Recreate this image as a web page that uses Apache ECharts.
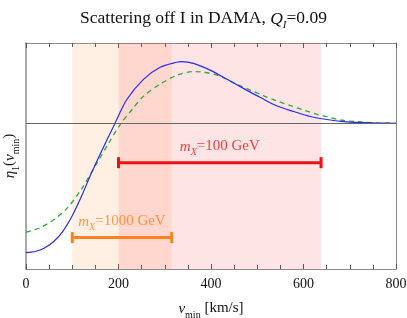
<!DOCTYPE html>
<html><head><meta charset="utf-8">
<script src="https://cdn.jsdelivr.net/npm/echarts@6/dist/echarts.min.js"></script>
<style>html,body{margin:0;padding:0;background:#fff}#c{width:407px;height:318px}</style>
</head><body><div id="c"></div>
<script>
// Data
const xTicks = [0, 200, 400, 600, 800];
const vBlue   = [0, 20, 40, 60, 80, 100, 120, 140, 160, 192, 218, 254, 290, 326, 337, 362, 398, 434, 470, 507, 543, 579, 615, 651, 687, 720, 759, 800];
const etaBlue = [-1.597, -1.583, -1.54, -1.46, -1.33, -1.14, -0.90, -0.63, -0.38, 0, 0.30, 0.55, 0.70, 0.762, 0.77, 0.747, 0.664, 0.553, 0.438, 0.324, 0.219, 0.151, 0.089, 0.052, 0.027, 0.016, 0.009, 0.005];
const vGreen   = [0, 30, 60, 90, 120, 150, 180, 205, 230, 254, 290, 326, 362, 377, 413, 456, 485, 514, 543, 572, 600, 629, 651, 680, 716, 760, 800];
const etaGreen = [-1.344, -1.29, -1.19, -1.04, -0.81, -0.52, -0.23, 0, 0.18, 0.34, 0.49, 0.60, 0.645, 0.643, 0.603, 0.488, 0.417, 0.346, 0.281, 0.223, 0.17, 0.116, 0.087, 0.046, 0.025, 0.01, 0.004];
const range100  = [200, 638];   // m_X = 100 GeV
const range1000 = [100, 315];   // m_X = 1000 GeV
const bar100Y  = -0.483;
const bar1000Y = -1.411;
const label100  = '{i|m}{sub|X}=100 GeV';
const label1000 = '{i|m}{sub|X}=1000 GeV';

const zip = (a, b) => a.map((v, i) => [v, b[i]]);
const serif = 'Liberation Serif';
const richFor = (color) => ({
  i: {fontFamily: serif, fontStyle: 'italic', fontSize: 15, color: color, verticalAlign: 'bottom', lineHeight: 18},
  sub: {fontFamily: serif, fontStyle: 'italic', fontSize: 10, color: color, verticalAlign: 'bottom', lineHeight: 13, padding: [0,0,-3,0]}
});

function bar(range, y, color, text) {
  return [{
    type: 'line', data: [[range[0], y], [range[1], y]], symbol: 'rect', symbolSize: [3, 11],
    showSymbol: true, lineStyle: {color: color, width: 3}, itemStyle: {color: color},
    silent: true, animation: false, z: 5
  }, {
    type: 'scatter', data: [[(range[0] + range[1]) / 2, y]], symbolSize: 0, silent: true, animation: false, z: 6,
    label: {show: true, position: 'top', distance: 8, formatter: text, color: color,
      fontFamily: serif, fontSize: 15, rich: richFor(color)}
  }];
}

const chart = echarts.init(document.getElementById('c'), null, {renderer: 'canvas'});
const axisLineStyle = {color: '#8a8a8a', width: 1};
const nameRich = {
  i: {fontFamily: serif, fontStyle: 'italic', fontSize: 15, color: '#111', verticalAlign: 'bottom', lineHeight: 18},
  sub: {fontFamily: serif, fontSize: 10, color: '#111', verticalAlign: 'bottom', lineHeight: 13, padding: [0,0,-3,0]}
};
chart.setOption({
  animation: false,
  title: {
    text: 'Scattering off I in DAMA, {i|Q}{sub|I}=0.09', left: 'center', top: 3,
    textStyle: {fontFamily: serif, fontSize: 17.5, fontWeight: 'normal', color: '#111',
      rich: {
        i: {fontFamily: serif, fontStyle: 'italic', fontSize: 17.5, color: '#111', verticalAlign: 'bottom', lineHeight: 20},
        sub: {fontFamily: serif, fontStyle: 'italic', fontSize: 11, color: '#111', verticalAlign: 'bottom', lineHeight: 14, padding: [0,0,-3,0]}
      }}
  },
  grid: {left: 26, right: 11, top: 43, bottom: 49, containLabel: false, outerBoundsMode: 'none'},
  xAxis: [{
    type: 'value', min: xTicks[0], max: xTicks[xTicks.length - 1], interval: 200, position: 'bottom',
    axisLine: {show: true, onZero: false, lineStyle: axisLineStyle},
    axisTick: {show: true, inside: true, length: 5, lineStyle: {color: '#555'}},
    minorTick: {show: true, splitNumber: 4, length: 4, lineStyle: {color: '#555'}},
    splitLine: {show: false},
    axisLabel: {fontFamily: serif, fontSize: 14, color: '#111', margin: 8},
    name: '{i|v}{sub|min} [km/s]', nameLocation: 'middle', nameGap: 30,
    nameTextStyle: {fontFamily: serif, fontSize: 15, color: '#111', rich: nameRich}
  }, {
    type: 'value', min: xTicks[0], max: xTicks[xTicks.length - 1], interval: 200, position: 'top',
    axisLine: {show: true, onZero: false, lineStyle: axisLineStyle},
    axisTick: {show: true, inside: true, length: 5, lineStyle: {color: '#555'}},
    minorTick: {show: true, splitNumber: 4, length: 4, lineStyle: {color: '#555'}},
    splitLine: {show: false}, axisLabel: {show: false}
  }],
  yAxis: [{
    type: 'value', min: -1.8, max: 1, position: 'left',
    axisLine: {show: true, onZero: false, lineStyle: {color: '#aaa', width: 2}},
    axisTick: {show: false}, axisLabel: {show: false}, splitLine: {show: false},
    name: '{i|η}{sub|1}({i|v}{sub|min})', nameLocation: 'middle', nameGap: 8, nameRotate: 90,
    nameTextStyle: {fontFamily: serif, fontSize: 15, color: '#111', rich: nameRich}
  }, {
    type: 'value', min: -1.8, max: 1, position: 'right',
    axisLine: {show: true, onZero: false, lineStyle: axisLineStyle},
    axisTick: {show: false}, axisLabel: {show: false}, splitLine: {show: false}
  }],
  series: [
    {
      type: 'line', data: [], silent: true,
      markArea: {silent: true, data: [
        [{xAxis: range1000[0], itemStyle: {color: 'rgba(255,150,60,0.14)'}}, {xAxis: range1000[1]}],
        [{xAxis: range100[0], itemStyle: {color: 'rgba(255,30,50,0.12)'}}, {xAxis: range100[1]}]
      ]},
      markLine: {silent: true, symbol: 'none', label: {show: false},
        lineStyle: {color: '#666', width: 1, type: 'solid'}, data: [{yAxis: 0}]}
    },
    {type: 'line', data: zip(vGreen, etaGreen), smooth: 0.3, showSymbol: false, z: 3,
      lineStyle: {color: '#33a833', width: 1.3, type: [5, 4]}},
    {type: 'line', data: zip(vBlue, etaBlue), smooth: 0.3, showSymbol: false, z: 4,
      lineStyle: {color: '#2a2aee', width: 1.2}},
    ...bar(range100, bar100Y, '#ee1111', label100),
    ...bar(range1000, bar1000Y, '#ff8020', label1000)
  ]
});
</script></body></html>
